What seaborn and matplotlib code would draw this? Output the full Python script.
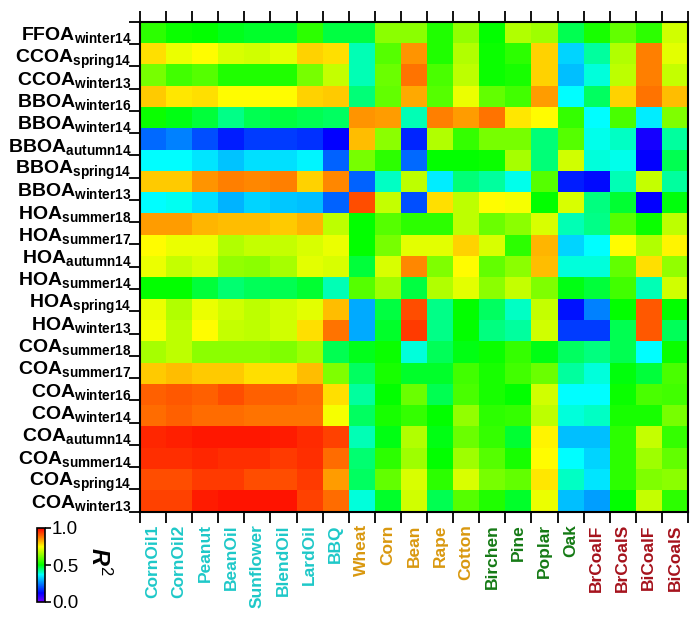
import numpy as np
import matplotlib
matplotlib.use("Agg")
import matplotlib.pyplot as plt
from matplotlib.colors import LinearSegmentedColormap
import seaborn as sns

# factor profiles (22 labels, but the image holds 23 rows of cells)
row_labels = [
    ("FFOA", "winter14"), ("CCOA", "spring14"), ("CCOA", "winter13"),
    ("BBOA", "winter16"), ("BBOA", "winter14"), ("BBOA", "autumn14"),
    ("BBOA", "spring14"), ("BBOA", "winter13"), ("HOA", "summer18"),
    ("HOA", "summer17"), ("HOA", "autumn14"), ("HOA", "summer14"),
    ("HOA", "spring14"), ("HOA", "winter13"), ("COA", "summer18"),
    ("COA", "summer17"), ("COA", "winter16"), ("COA", "winter14"),
    ("COA", "autumn14"), ("COA", "summer14"), ("COA", "spring14"),
    ("COA", "winter13"),
]

cooking = ["CornOil1", "CornOil2", "Peanut", "BeanOil", "Sunflower", "BlendOil", "LardOil", "BBQ"]
crop = ["Wheat", "Corn", "Bean", "Rape", "Cotton"]
wood = ["Birchen", "Pine", "Poplar", "Oak"]
coal = ["BrCoalF", "BrCoalS", "BiCoalF", "BiCoalS"]

# R^2 values, one list per source group
cooking_r2 = [
    [0.54, 0.51, 0.50, 0.485, 0.48, 0.48, 0.54, 0.465],
    [0.78, 0.73, 0.75, 0.71, 0.70, 0.72, 0.79, 0.78],
    [0.61, 0.56, 0.58, 0.53, 0.53, 0.53, 0.61, 0.69],
    [0.80, 0.77, 0.78, 0.75, 0.75, 0.75, 0.79, 0.80],
    [0.51, 0.49, 0.47, 0.43, 0.46, 0.465, 0.46, 0.45],
    [0.23, 0.25, 0.20, 0.15, 0.18, 0.18, 0.17, 0.12],
    [0.37, 0.37, 0.345, 0.316, 0.34, 0.34, 0.36, 0.22],
    [0.80, 0.80, 0.85, 0.87, 0.86, 0.87, 0.79, 0.86],
    [0.37, 0.375, 0.34, 0.30, 0.33, 0.32, 0.31, 0.22],
    [0.84, 0.84, 0.82, 0.81, 0.81, 0.80, 0.82, 0.68],
    [0.75, 0.73, 0.73, 0.67, 0.69, 0.69, 0.71, 0.73],
    [0.73, 0.69, 0.71, 0.64, 0.63, 0.66, 0.72, 0.71],
    [0.50, 0.50, 0.47, 0.445, 0.455, 0.46, 0.475, 0.41],
    [0.73, 0.67, 0.73, 0.70, 0.68, 0.70, 0.72, 0.81],
    [0.74, 0.68, 0.75, 0.69, 0.68, 0.70, 0.78, 0.88],
    [0.66, 0.68, 0.63, 0.63, 0.63, 0.62, 0.65, 0.46],
    [0.80, 0.81, 0.80, 0.80, 0.78, 0.78, 0.81, 0.62],
    [0.90, 0.91, 0.90, 0.92, 0.90, 0.90, 0.89, 0.78],
    [0.89, 0.90, 0.89, 0.89, 0.88, 0.88, 0.88, 0.74],
    [0.96, 0.965, 0.975, 0.975, 0.975, 0.97, 0.955, 0.93],
    [0.95, 0.95, 0.96, 0.95, 0.95, 0.94, 0.95, 0.89],
    [0.92, 0.92, 0.94, 0.94, 0.92, 0.92, 0.94, 0.84],
    [0.93, 0.93, 0.97, 0.98, 0.98, 0.98, 0.93, 0.89],
]
crop_r2 = [
    [0.465, 0.63, 0.63, 0.53, 0.64],
    [0.41, 0.58, 0.85, 0.53, 0.67],
    [0.41, 0.60, 0.88, 0.57, 0.68],
    [0.44, 0.59, 0.83, 0.58, 0.73],
    [0.85, 0.84, 0.41, 0.87, 0.84],
    [0.81, 0.63, 0.16, 0.67, 0.55],
    [0.61, 0.54, 0.23, 0.50, 0.50],
    [0.22, 0.40, 0.68, 0.355, 0.44],
    [0.92, 0.69, 0.20, 0.78, 0.68],
    [0.50, 0.58, 0.54, 0.54, 0.68],
    [0.50, 0.61, 0.72, 0.72, 0.79],
    [0.47, 0.71, 0.86, 0.62, 0.75],
    [0.58, 0.65, 0.465, 0.67, 0.72],
    [0.29, 0.465, 0.92, 0.43, 0.50],
    [0.29, 0.48, 0.94, 0.43, 0.50],
    [0.485, 0.51, 0.39, 0.455, 0.49],
    [0.45, 0.52, 0.48, 0.48, 0.56],
    [0.42, 0.50, 0.60, 0.46, 0.57],
    [0.45, 0.52, 0.55, 0.50, 0.64],
    [0.41, 0.49, 0.67, 0.49, 0.60],
    [0.445, 0.54, 0.65, 0.50, 0.65],
    [0.45, 0.59, 0.71, 0.54, 0.71],
    [0.39, 0.48, 0.70, 0.46, 0.58],
]
wood_r2 = [
    [0.50, 0.67, 0.65, 0.46],
    [0.51, 0.54, 0.79, 0.33],
    [0.51, 0.52, 0.79, 0.31],
    [0.59, 0.56, 0.84, 0.37],
    [0.88, 0.77, 0.75, 0.55],
    [0.61, 0.61, 0.44, 0.58],
    [0.51, 0.66, 0.44, 0.70],
    [0.42, 0.38, 0.58, 0.15],
    [0.75, 0.74, 0.50, 0.71],
    [0.60, 0.63, 0.71, 0.41],
    [0.71, 0.54, 0.82, 0.33],
    [0.59, 0.63, 0.81, 0.39],
    [0.63, 0.69, 0.62, 0.49],
    [0.45, 0.40, 0.69, 0.14],
    [0.435, 0.42, 0.70, 0.18],
    [0.51, 0.55, 0.49, 0.45],
    [0.52, 0.56, 0.60, 0.42],
    [0.52, 0.50, 0.70, 0.37],
    [0.54, 0.55, 0.68, 0.39],
    [0.55, 0.475, 0.76, 0.31],
    [0.58, 0.52, 0.75, 0.37],
    [0.61, 0.59, 0.77, 0.40],
    [0.53, 0.48, 0.73, 0.31],
]
coal_r2 = [
    [0.52, 0.59, 0.54, 0.70],
    [0.42, 0.67, 0.87, 0.72],
    [0.39, 0.68, 0.87, 0.69],
    [0.45, 0.79, 0.88, 0.81],
    [0.37, 0.57, 0.355, 0.62],
    [0.38, 0.40, 0.10, 0.42],
    [0.39, 0.38, 0.12, 0.46],
    [0.13, 0.41, 0.69, 0.42],
    [0.435, 0.475, 0.12, 0.495],
    [0.43, 0.58, 0.51, 0.68],
    [0.37, 0.75, 0.67, 0.76],
    [0.39, 0.59, 0.78, 0.64],
    [0.47, 0.56, 0.41, 0.70],
    [0.25, 0.50, 0.91, 0.50],
    [0.18, 0.46, 0.91, 0.455],
    [0.435, 0.46, 0.37, 0.51],
    [0.39, 0.495, 0.47, 0.57],
    [0.37, 0.51, 0.57, 0.56],
    [0.40, 0.52, 0.52, 0.61],
    [0.31, 0.54, 0.69, 0.55],
    [0.33, 0.54, 0.65, 0.59],
    [0.345, 0.54, 0.62, 0.63],
    [0.28, 0.50, 0.69, 0.54],
]

group_colors = {"cooking": "#1EC8C8", "crop": "#D9980F", "wood": "#157A15", "coal": "#A5121C"}

data = np.hstack([np.array(cooking_r2), np.array(crop_r2), np.array(wood_r2), np.array(coal_r2)])
col_labels = cooking + crop + wood + coal
col_colors = ([group_colors["cooking"]] * len(cooking) + [group_colors["crop"]] * len(crop)
              + [group_colors["wood"]] * len(wood) + [group_colors["coal"]] * len(coal))

# rainbow table: purple -> blue -> cyan -> green -> yellow -> red
rainbow = LinearSegmentedColormap.from_list("rainbow_igor", [
    (0.00, (0.45, 0.0, 1.0)),
    (0.12, (0.0, 0.0, 1.0)),
    (0.25, (0.0, 0.5, 1.0)),
    (0.37, (0.0, 1.0, 1.0)),
    (0.50, (0.0, 1.0, 0.0)),
    (0.62, (0.5, 1.0, 0.0)),
    (0.75, (1.0, 1.0, 0.0)),
    (0.87, (1.0, 0.5, 0.0)),
    (1.00, (1.0, 0.0, 0.0)),
])

sns.set_style("ticks")
plt.rcParams["font.family"] = ["Liberation Sans", "DejaVu Sans"]
plt.rcParams["text.color"] = "black"
plt.rcParams["xtick.color"] = "black"
plt.rcParams["ytick.color"] = "black"
plt.rcParams["mathtext.fontset"] = "custom"
plt.rcParams["mathtext.rm"] = "Liberation Sans"
plt.rcParams["mathtext.it"] = "Liberation Sans:italic:bold"
plt.rcParams["mathtext.bf"] = "Liberation Sans:bold"

W, H = 691, 617
fig = plt.figure(figsize=(W / 100, H / 100), dpi=100)
ax = fig.add_axes([140 / W, 1 - 511.7 / H, 548 / W, 490 / H])
cax = fig.add_axes([37 / W, 1 - 602 / H, 8 / W, 74 / H])

sns.heatmap(data, ax=ax, cmap=rainbow, vmin=0, vmax=1, cbar_ax=cax,
            cbar_kws={"ticks": [0, 0.5, 1.0]}, xticklabels=False, yticklabels=False)

n_rows, n_cols = data.shape
n_lab = len(row_labels)
step = n_rows / n_lab

ax.set_xticks(np.arange(n_cols) + 0.5)
ax.set_xticks(np.arange(n_cols + 1), minor=True)
ax.set_xticklabels(col_labels, rotation=90, fontsize=12.5, fontweight="bold", va="top")
for lab, c in zip(ax.get_xticklabels(), col_colors):
    lab.set_color(c)

ax.set_yticks((np.arange(n_lab) + 0.5) * step)
ax.set_yticks(np.arange(n_lab + 1) * step, minor=True)
ax.set_yticklabels([r"$\mathbf{%s}_{\mathbf{%s}}$" % (a, b) for a, b in row_labels],
                   fontsize=14, color="black")

ax.tick_params(which="major", length=0, pad=6)
ax.tick_params(axis="x", which="major", pad=9)
ax.tick_params(which="minor", direction="out", length=8, width=1.3, color="black")
ax.tick_params(axis="x", which="minor", top=True, bottom=True)
ax.tick_params(axis="y", which="minor", left=True, right=False)
for s in ax.spines.values():
    s.set_visible(True)
    s.set_linewidth(1.5)
    s.set_color("black")

cbar = ax.collections[0].colorbar
cbar.ax.set_yticklabels(["0.0", "0.5", "1.0"])
cbar.ax.tick_params(length=4, width=1.2, labelsize=13.5, pad=1, color="black", labelcolor="black")
cbar.outline.set_linewidth(1.2)
cbar.outline.set_edgecolor("black")
fig.text(99 / W, 1 - 562 / H, r"$R^2$", rotation=-90, fontsize=17, ha="center", va="center",
         color="black")

fig.savefig("out.png", dpi=100)
